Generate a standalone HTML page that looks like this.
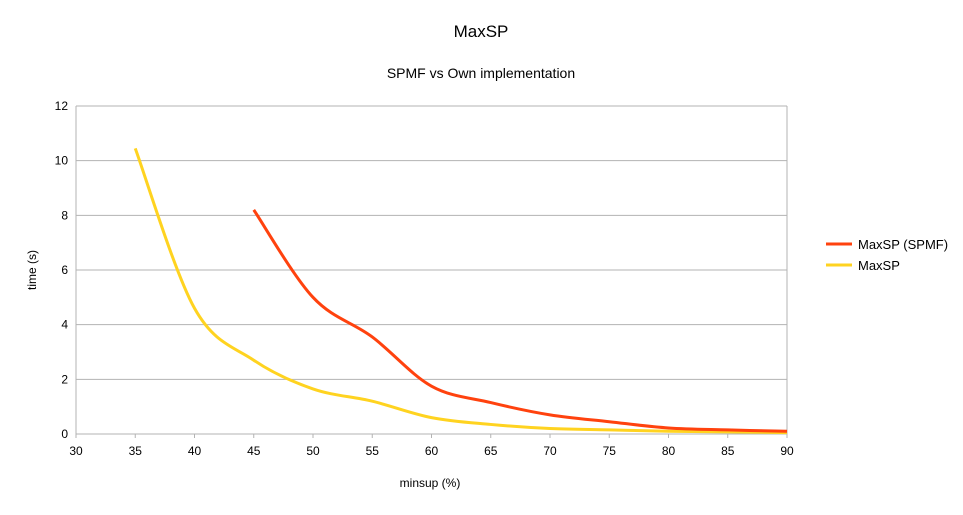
<!DOCTYPE html>
<html><head><meta charset="utf-8"><style>
body{margin:0;background:#fff;font-family:"Liberation Sans",sans-serif}
svg text{font-family:"Liberation Sans",sans-serif;fill:#000}
</style></head><body>
<svg id="chart" width="963" height="510" viewBox="0 0 963 510">
<text x="481" y="37" font-size="17" text-anchor="middle">MaxSP</text>
<text x="481" y="78" font-size="14" text-anchor="middle">SPMF vs Own implementation</text>
<g id="grid"></g><g id="axes"></g><g id="series"></g>
<text x="430" y="487" font-size="12" text-anchor="middle">minsup (%)</text>
<text transform="translate(36,270) rotate(-90)" font-size="12" text-anchor="middle">time (s)</text>
<g>
<line x1="826" y1="244" x2="852" y2="244" stroke="#ff420e" stroke-width="3"/>
<text x="858" y="249" font-size="13">MaxSP (SPMF)</text>
<line x1="826" y1="265" x2="852" y2="265" stroke="#ffd320" stroke-width="3"/>
<text x="858" y="270" font-size="13">MaxSP</text>
</g>
</svg>
<script>
const xTicks=[30,35,40,45,50,55,60,65,70,75,80,85,90];
const yTicks=[0,2,4,6,8,10,12];
const spmfX=[45,50,55,60,65,70,75,80,85,90];
const spmfY=[8.2,5.0,3.55,1.75,1.15,0.7,0.45,0.22,0.15,0.1];
const ownX=[35,40,45,50,55,60,65,70,75,80,85,90];
const ownY=[10.45,4.6,2.7,1.65,1.2,0.6,0.35,0.2,0.15,0.1,0.08,0.05];
const NS='http://www.w3.org/2000/svg';
const X0=76,X1=787,Y0=434,Y1=106;
const sx=v=>X0+(v-30)/(90-30)*(X1-X0);
const sy=v=>Y0-v/12*(Y0-Y1);
function mk(tag,attrs,parent){const e=document.createElementNS(NS,tag);for(const k in attrs)e.setAttribute(k,attrs[k]);parent.appendChild(e);return e;}
const grid=document.getElementById('grid'),axes=document.getElementById('axes'),ser=document.getElementById('series');
yTicks.forEach(t=>{
 const l=mk('line',{x1:X0,x2:X1,y1:sy(t),y2:sy(t),stroke:'#b3b3b3','stroke-width':1},grid);
 
 
 const tx=mk('text',{x:X0-8,y:sy(t)+4,'font-size':12,'text-anchor':'end'},axes);
 tx.textContent=t;
 
 
});
const vl=mk('line',{x1:X1,x2:X1,y1:Y1,y2:Y0,stroke:'#b3b3b3'},grid);


const ya=mk('line',{x1:X0,x2:X0,y1:Y1,y2:Y0+4,stroke:'#b3b3b3'},axes);


xTicks.forEach(t=>{
 const k=mk('line',{x1:sx(t),x2:sx(t),y1:Y0,y2:Y0+4,stroke:'#b3b3b3'},axes);
 
 
 const tx=mk('text',{x:sx(t),y:Y0+21,'font-size':12,'text-anchor':'middle'},axes);
 tx.textContent=t;
 
 
});
function smooth(xs,ys){
 const p=xs.map((x,i)=>[sx(x),sy(ys[i])]);
 let d='M'+p[0][0]+','+p[0][1];
 for(let i=0;i<p.length-1;i++){
  const a=p[Math.max(i-1,0)],b=p[i],c=p[i+1],e=p[Math.min(i+2,p.length-1)];
  const c1=[b[0]+(c[0]-a[0])/6,b[1]+(c[1]-a[1])/6],c2=[c[0]-(e[0]-b[0])/6,c[1]-(e[1]-b[1])/6];
  d+=` C${c1[0]},${c1[1]} ${c2[0]},${c2[1]} ${c[0]},${c[1]}`;
 }
 return d;
}
const own=mk('path',{d:smooth(ownX,ownY),fill:'none',stroke:'#ffd320','stroke-width':3},ser);


const sp=mk('path',{d:smooth(spmfX,spmfY),fill:'none',stroke:'#ff420e','stroke-width':3},ser);


</script>
</body></html>
